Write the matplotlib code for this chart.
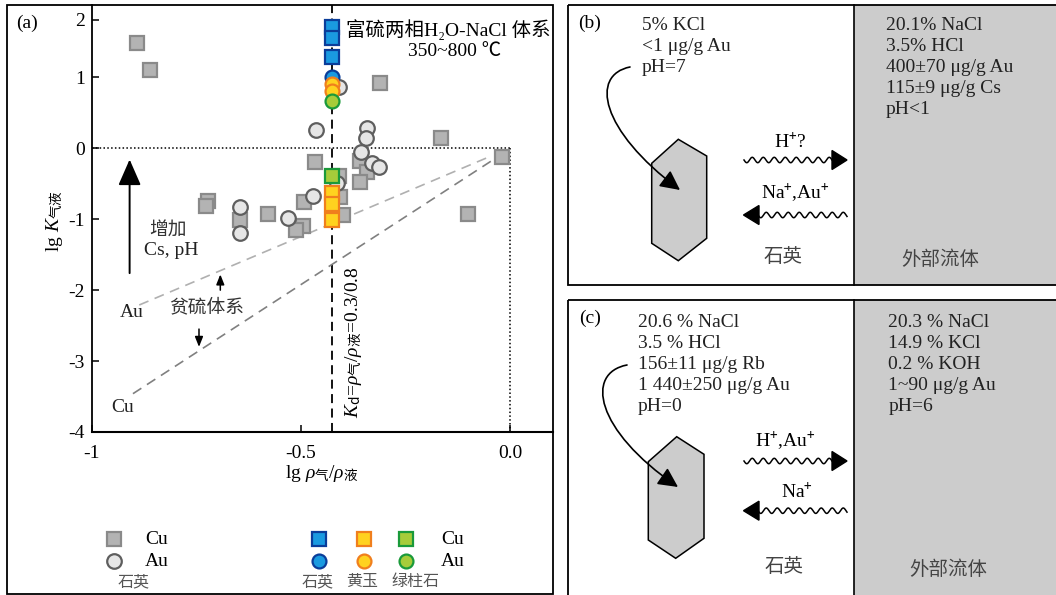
import numpy as np
import matplotlib.pyplot as plt
from matplotlib.patches import Rectangle, Polygon, FancyArrowPatch
from matplotlib.path import Path

plt.rcParams['font.family'] = ['Liberation Serif', 'Noto Sans CJK SC', 'DejaVu Sans']
plt.rcParams['mathtext.fontset'] = 'custom'
plt.rcParams['mathtext.rm'] = 'Noto Sans CJK SC'
plt.rcParams['mathtext.it'] = 'Liberation Serif:italic'
plt.rcParams['axes.unicode_minus'] = False

# panel (a): quartz, Cu (grey squares)
qz_cu_x = [-0.893, -0.861, -0.311, -0.165, -0.020, -0.467, -0.358, -0.343, -0.359, -0.408,
           -0.406, -0.399, -0.101, -0.492, -0.580, -0.496, -0.511, -0.722, -0.727, -0.646]
qz_cu_y = [1.59, 1.13, 0.92, 0.15, -0.12, -0.20, -0.18, -0.33, -0.47, -0.39,
           -0.69, -0.94, -0.93, -0.76, -0.93, -1.09, -1.15, -0.74, -0.81, -1.01]
# quartz, Au (grey circles)
qz_au_x = [-0.408, -0.464, -0.341, -0.345, -0.357, -0.331, -0.313, -0.471, -0.530, -0.646, -0.646, -0.413]
qz_au_y = [0.86, 0.25, 0.28, 0.14, -0.05, -0.21, -0.27, -0.67, -0.98, -0.83, -1.19, -0.49]
# sulfur-rich two-phase experiments, all at Kd = 0.3/0.8
kd_x = np.log10(0.3 / 0.8)
exp_qz_cu = [1.87, 1.68, 1.36]
exp_qz_au = [1.01]
exp_tp_au = [0.905, 0.81]
exp_be_au = [0.666]
exp_be_cu = [-0.39]
exp_tp_cu = [-0.63, -0.79, -1.01]
# sulfur-poor trend lines
au_line_x = [-0.887, -0.053]
au_line_y = [-2.21, -0.13]
cu_line_x = [-0.902, -0.038]
cu_line_y = [-3.46, -0.155]

# panels (b), (c) text
b_left = ['5% KCl', '<1 μg/g Au', 'pH=7']
b_right = ['20.1% NaCl', '3.5% HCl', '400±70 μg/g Au', '115±9 μg/g Cs', 'pH<1']
c_left = ['20.6 % NaCl', '3.5 % HCl', '156±11 μg/g Rb', '1 440±250 μg/g Au', 'pH=0']
c_right = ['20.3 % NaCl', '14.9 % KCl', '0.2 % KOH', '1~90 μg/g Au', 'pH=6']

W, H = 1056, 595
GREY_SQ = dict(marker='s', ms=10.5, mfc='#b3b3b3', mec='#8a8a8a', mew=1.6, ls='none')
GREY_CI = dict(marker='o', ms=10.5, mfc='#e6e6e6', mec='#5e5e5e', mew=1.6, ls='none')
BLUE = dict(mfc='#1a9ae0', mec='#0a3d9a')
ORANGE = dict(mfc='#ffd21f', mec='#f07f1d')
GREEN = dict(mfc='#a6cc3a', mec='#1a9a3a')


def fwd(y):
    y = np.asarray(y, float)
    return np.where(y > 1, 1 + (y - 1) * 0.81, y)


def inv(y):
    y = np.asarray(y, float)
    return np.where(y > 1, 1 + (y - 1) / 0.81, y)


def wave(ax, x0, x1, y, amp=2.7, period=11):
    xs = np.linspace(x0, x1, 400)
    ax.plot(xs, y + amp * np.sin(2 * np.pi * (xs - x0) / period), color='black', lw=1.1)


def curve_arrow(ax, pts):
    path = Path(pts, [Path.MOVETO, Path.CURVE4, Path.CURVE4, Path.CURVE4])
    ax.add_patch(FancyArrowPatch(path=path, arrowstyle='-|>,head_length=0.6,head_width=0.3',
                                 mutation_scale=20, color='black', lw=1.2))


def main():
    fig = plt.figure(figsize=(W / 100, H / 100), dpi=100)

    # ---- panel (a)
    ax = fig.add_axes([92 / W, 1 - 432 / H, (553 - 92) / W, (432 - 5) / H])
    ax.set_yscale('function', functions=(fwd, inv))
    ax.set_xlim(-1, 0.103)
    ax.set_ylim(-4, 2.257)
    ax.spines[['top', 'right']].set_visible(False)
    ax.spines['left'].set_linewidth(1.3)
    ax.spines['bottom'].set_linewidth(1.5)
    ax.set_xticks([-1, -0.5, 0])
    ax.set_xticklabels(['-1', '-0.5', '0.0'])
    ax.set_yticks([-4, -3, -2, -1, 0, 1, 2])
    ax.set_yticklabels(['-4', '-3', '-2', '-1', '0', '1', '2'])
    ax.tick_params(direction='in', length=5, width=1.1, labelsize=14)
    ax.tick_params(axis='x', pad=9)
    ax.tick_params(axis='y', pad=5)
    ax.minorticks_off()

    ax.plot([-1, 0], [0, 0], color='black', ls=(0, (1, 1.5)), lw=1.1)
    ax.plot([0, 0], [0, -4], color='black', ls=(0, (1, 1.5)), lw=1.1)
    ax.axvline(kd_x, color='black', ls=(0, (5, 3)), lw=1.3)
    ax.plot(au_line_x, au_line_y, color='#b0b0b0', ls=(0, (6, 4)), lw=1.2)
    ax.plot(cu_line_x, cu_line_y, color='#808080', ls=(0, (6, 4)), lw=1.2)

    ax.plot(qz_cu_x, qz_cu_y, **GREY_SQ)
    ax.plot(qz_au_x, qz_au_y, **GREY_CI)
    sq = dict(marker='s', ms=10, mew=1.6, ls='none')
    ci = dict(marker='o', ms=10, mew=1.6, ls='none')
    ax.plot([kd_x] * len(exp_qz_cu), exp_qz_cu, **sq, **BLUE)
    ax.plot([kd_x] * len(exp_qz_au), exp_qz_au, **ci, **BLUE)
    ax.plot([kd_x] * len(exp_tp_au), exp_tp_au, **ci, **ORANGE)
    ax.plot([kd_x] * len(exp_be_au), exp_be_au, **ci, **GREEN)
    ax.plot([kd_x] * len(exp_tp_cu), exp_tp_cu, **sq, **ORANGE)
    ax.plot([kd_x] * len(exp_be_cu), exp_be_cu, **sq, **GREEN)

    ax.set_ylabel(r'lg $K_{\mathrm{气液}}$', fontsize=14, va='center', ha='center')
    ax.yaxis.set_label_coords(-0.08, 0.494)
    ax.set_xlabel(r'lg $\rho_{\mathrm{气}}$/$\rho_{\mathrm{液}}$', fontsize=14, va='center')
    ax.xaxis.set_label_coords(0.498, -0.097)

    ax.text(-0.374, -2.73, r'$K_{\mathrm{d}}$=$\rho_{\mathrm{气}}$/$\rho_{\mathrm{液}}$=0.3/0.8',
            rotation=90, ha='center', va='center', fontsize=14)
    ax.annotate('', xy=(-0.910, -0.12), xytext=(-0.910, -1.80),
                arrowprops=dict(arrowstyle='-|>,head_length=0.8,head_width=0.35',
                                mutation_scale=20, color='black', lw=1.4))
    ax.annotate('', xy=(-0.693, -1.74), xytext=(-0.693, -2.04),
                arrowprops=dict(arrowstyle='-|>,head_length=0.5,head_width=0.2',
                                mutation_scale=12, color='black', lw=1.1))
    ax.annotate('', xy=(-0.744, -2.84), xytext=(-0.744, -2.51),
                arrowprops=dict(arrowstyle='-|>,head_length=0.5,head_width=0.2',
                                mutation_scale=12, color='black', lw=1.1))
    ax.text(-0.818, -1.175, '增加', ha='center', va='center', fontsize=13.5, color='#333333')
    ax.text(-0.810, -1.44, 'Cs, pH', ha='center', va='center', fontsize=14, color='#222222')
    ax.text(-0.725, -2.25, '贫硫体系', ha='center', va='center', fontsize=13.5, color='#333333')
    ax.text(-0.904, -2.32, 'Au', ha='center', va='center', fontsize=14, color='#222222')
    ax.text(-0.927, -3.66, 'Cu', ha='center', va='center', fontsize=14, color='#222222')

    # ---- overlay in pixel units for frames, legend and panels (b), (c)
    ov = fig.add_axes([0, 0, 1, 1])
    ov.set_xlim(0, W)
    ov.set_ylim(H, 0)
    ov.axis('off')

    ov.add_patch(Rectangle((7, 5), 546, 589, fill=False, ec='black', lw=1.3))
    ov.text(26.8, 23.3, '(a)', ha='center', va='center', fontsize=14)
    ov.text(346, 30, '富硫两相H₂O-NaCl 体系', ha='left', va='center', fontsize=14)
    ov.text(455, 52, '350~800 ℃', ha='center', va='center', fontsize=14)

    # legend
    ov.plot(114.3, 539.3, **GREY_SQ)
    ov.plot(114.3, 561, **GREY_CI)
    ov.text(157, 539.3, 'Cu', ha='center', va='center', fontsize=14)
    ov.text(157, 561, 'Au', ha='center', va='center', fontsize=14)
    ov.text(134, 582, '石英', ha='center', va='center', fontsize=11.5, color='#555555')
    for lx, style, name in [(319, BLUE, '石英'), (363.6, ORANGE, '黄玉'), (406.4, GREEN, '绿柱石')]:
        ov.plot(lx, 539.3, **sq, **style)
        ov.plot(lx, 561, **ci, **style)
        ov.text(lx + (9 if name == '绿柱石' else -1), 582, name, ha='center', va='center',
                fontsize=11.5, color='#555555')
    ov.text(452.9, 539.3, 'Cu', ha='center', va='center', fontsize=14)
    ov.text(452.9, 561, 'Au', ha='center', va='center', fontsize=14)

    # ---- panels (b) and (c)
    panels = [
        dict(top=5, bottom=285, tag='(b)', tag_y=23, left=b_left, right=b_right,
             text_y0=26, lx=641.7, rx=886,
             hexagon=[(678.3, 139.3), (706.7, 156), (706.7, 238.3), (678.3, 260.7),
                      (651.7, 243.3), (651.7, 163.3)],
             curve=[(630, 67), (590, 75), (600, 130), (680, 190)],
             w_right=160, w_left=215, lab_r='H$^{+}$?', lab_r_xy=(790, 141.7),
             lab_l='Na$^{+}$,Au$^{+}$', lab_l_xy=(795, 192.7),
             qz_xy=(782.7, 256.7), fl_xy=(940, 259.3)),
        dict(top=299.5, bottom=600, tag='(c)', tag_y=318.3, left=c_left, right=c_right,
             text_y0=322.7, lx=637.7, rx=888.3,
             hexagon=[(676.7, 436.7), (704, 454.3), (704, 538.3), (675.7, 558.3),
                      (648.3, 540), (648.3, 461.7)],
             curve=[(627, 365), (585, 373), (595, 430), (678, 487)],
             w_right=461, w_left=510.7, lab_r='H$^{+}$,Au$^{+}$', lab_r_xy=(785, 440.7),
             lab_l='Na$^{+}$', lab_l_xy=(797.3, 491.7),
             qz_xy=(784, 566.7), fl_xy=(948.3, 569.3)),
    ]
    for p in panels:
        top, bottom = p['top'], p['bottom']
        ov.add_patch(Rectangle((854, top), W - 854 + 5, bottom - top, fc='#cccccc', ec='none'))
        ov.add_patch(Rectangle((567.5, top), W - 567.5 + 5, bottom - top, fill=False,
                               ec='black', lw=1.3))
        ov.plot([854, 854], [top, bottom], color='black', lw=1.2)
        ov.text(590, p['tag_y'], p['tag'], ha='center', va='center', fontsize=14)
        for i, s in enumerate(p['left']):
            ov.text(p['lx'], p['text_y0'] + 20.9 * i, s, ha='left', va='center',
                    fontsize=14, color='#222222')
        for i, s in enumerate(p['right']):
            ov.text(p['rx'], p['text_y0'] + 20.9 * i, s, ha='left', va='center',
                    fontsize=14, color='#222222')
        ov.add_patch(Polygon(p['hexagon'], closed=True, fc='#cccccc', ec='black', lw=1.1))
        curve_arrow(ov, p['curve'])

        yr, yl = p['w_right'], p['w_left']
        wave(ov, 744, 832, yr)
        ov.add_patch(Polygon([(832, yr - 9.5), (847, yr), (832, yr + 9.5)], closed=True,
                             fc='black', ec='black'))
        wave(ov, 758, 847, yl)
        ov.add_patch(Polygon([(759, yl - 9.5), (743.5, yl), (759, yl + 9.5)], closed=True,
                             fc='black', ec='black'))
        ov.text(*p['lab_r_xy'], p['lab_r'], ha='center', va='center', fontsize=14)
        ov.text(*p['lab_l_xy'], p['lab_l'], ha='center', va='center', fontsize=14)
        ov.text(*p['qz_xy'], '石英', ha='center', va='center', fontsize=14, color='#444444')
        ov.text(*p['fl_xy'], '外部流体', ha='center', va='center', fontsize=14, color='#444444')

    fig.savefig('out.png', dpi=100)


if __name__ == '__main__':
    main()
